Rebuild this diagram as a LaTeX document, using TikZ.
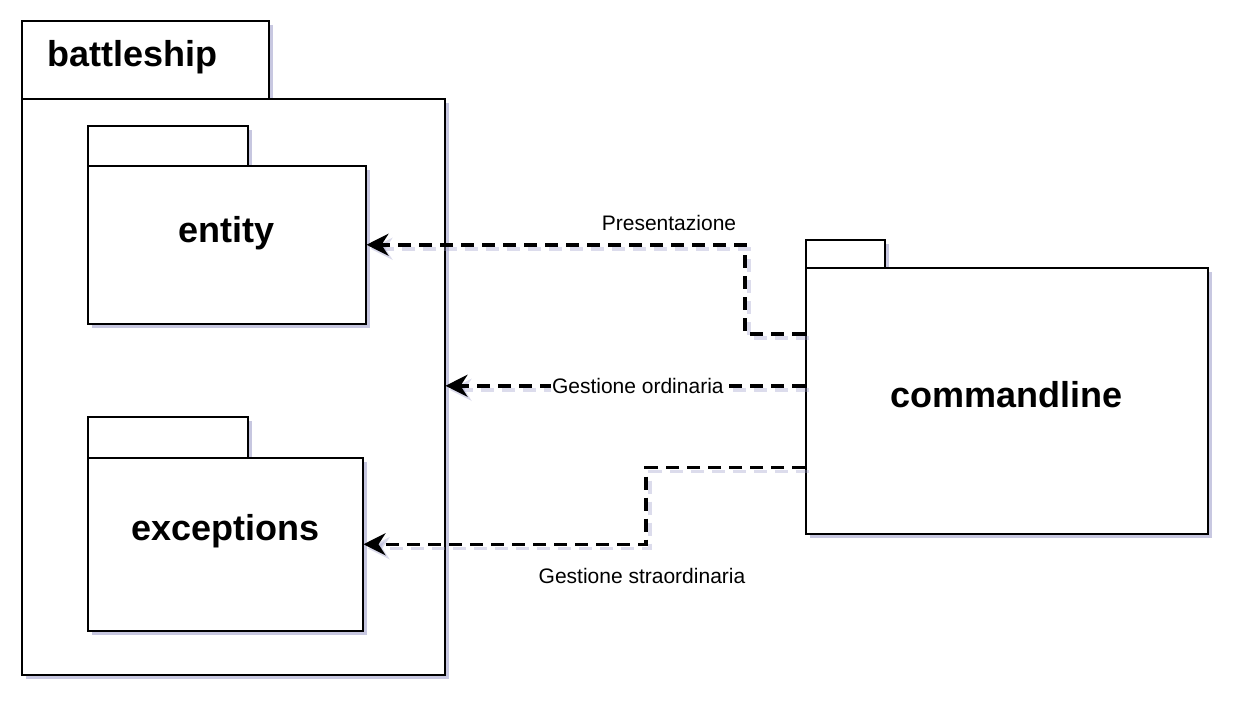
\documentclass[tikz,border=0pt]{standalone}
\usepackage{fontspec}
\setmainfont{Liberation Sans}
\usetikzlibrary{positioning, arrows.meta, calc, shadows}
\definecolor{shadowBlue}{HTML}{9A9AC8}

\begin{document}
\begin{tikzpicture}[x=1pt, y=-1pt,
  pkgbox/.style={draw=black, line width=1.5pt, fill=white, anchor=north west, inner sep=0pt,
    drop shadow={fill=shadowBlue, opacity=0.55, shadow xshift=4pt, shadow yshift=-4pt}},
  pkgname/.style={font=\fontsize{36}{40}\selectfont\bfseries, inner sep=0pt},
  dep/.style={line width=3.5pt, dash pattern=on 13pt off 8pt,
    -{Stealth[length=22pt, width=22pt, inset=7pt]},
    preaction={draw=shadowBlue, opacity=0.35, line width=3.5pt, dash pattern=on 13pt off 8pt,
      transform canvas={shift={(4pt,-4pt)}}}},
  deplabel/.style={fill=white, font=\fontsize{21}{24}\selectfont, inner sep=1.5pt}]
  \useasboundingbox (0,0) rectangle (1242,710);

  % battleship
  \node[pkgbox, minimum width=247pt, minimum height=78pt] (bsTab) at (21,20) {};
  \node[pkgbox, minimum width=423pt, minimum height=576pt] (bsBody) at (21,98) {};
  \node[pkgname, anchor=west] (bsName) at (47,57) {battleship};

  % entity
  \node[pkgbox, minimum width=160pt, minimum height=40pt] (entTab) at (87,125) {};
  \node[pkgbox, minimum width=278pt, minimum height=158pt] (entBody) at (87,165) {};
  \node[pkgname] (entName) at ([yshift=12pt]entBody.center) {entity};

  % exceptions
  \node[pkgbox, minimum width=160pt, minimum height=41pt] (excTab) at (87,416) {};
  \node[pkgbox, minimum width=275pt, minimum height=173pt] (excBody) at (87,457) {};
  \node[pkgname] (excName) at ([yshift=13pt]excBody.center) {exceptions};

  % commandline
  \node[pkgbox, minimum width=79pt, minimum height=28pt] (cmdTab) at (805,239) {};
  \node[pkgbox, minimum width=402pt, minimum height=266pt] (cmdBody) at (805,267) {};
  \node[pkgname] (cmdName) at ([yshift=6pt]cmdBody.center) {commandline};

  % dipendenze
  \coordinate (cPres) at ($(cmdBody.north west)!0.25!(cmdBody.south west)$);
  \coordinate (cOrd) at ($(cmdBody.north west)!0.444!(cmdBody.south west)$);
  \coordinate (cStra) at ($(cmdBody.north west)!0.75!(cmdBody.south west)$);

  \draw[dep] (cPres) -- ++(-60,0) |- (entBody.east);
  \draw[dep] (cOrd) -- node[deplabel, pos=0.465] (lblOrd) {Gestione ordinaria} (cOrd -| bsBody.east);
  \draw[dep] (cStra) -- ++(-159,0) |- (excBody.east);

  \node[deplabel] (lblPres) at (669,223) {Presentazione};
  \node[deplabel] (lblStra) at (642,576) {Gestione straordinaria};
\end{tikzpicture}
\end{document}
